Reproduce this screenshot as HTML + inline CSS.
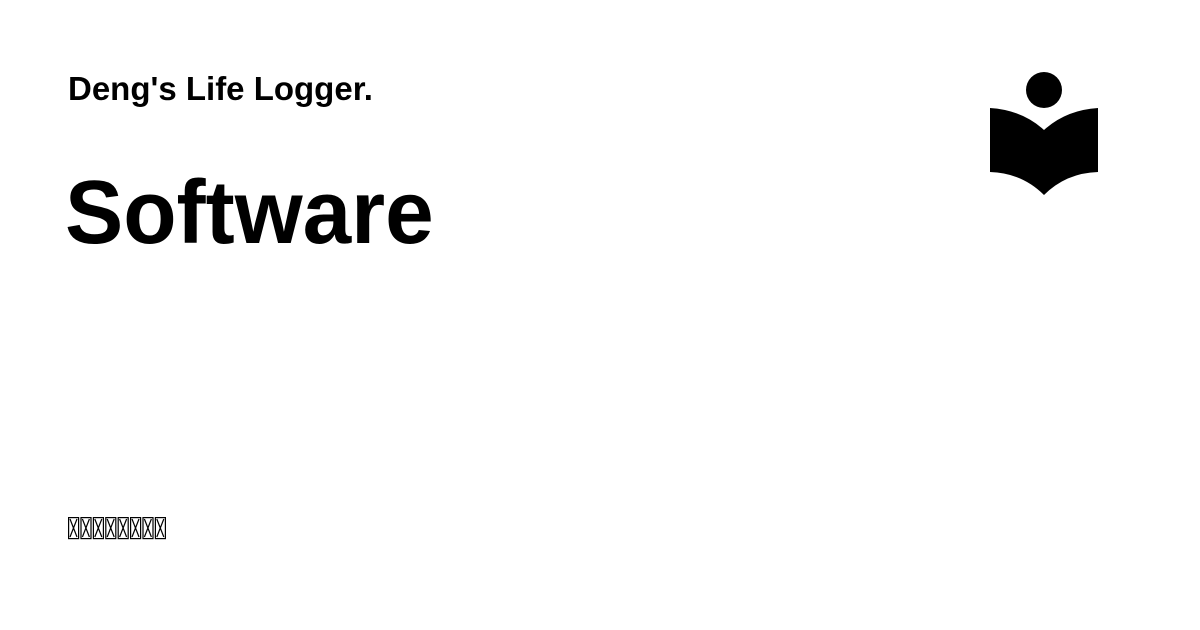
<!DOCTYPE html>
<html><head><meta charset="utf-8"><style>
html,body{margin:0;padding:0;background:#fff;}
body{width:1200px;height:630px;position:relative;overflow:hidden;font-family:"Liberation Sans",sans-serif;color:#000;}
.h{position:absolute;left:68px;top:70px;font-size:33px;font-weight:bold;white-space:nowrap;transform-origin:0 0;}
.t{position:absolute;left:65px;top:162px;font-size:90px;font-weight:bold;white-space:nowrap;transform:scaleX(0.97);transform-origin:0 0;}
.b{position:absolute;left:68px;top:517px;}
.b svg{display:block}
</style></head><body>
<div class="h">Deng's Life Logger.</div>
<div class="t">Software</div>
<div class="b"><svg width="110" height="24">
<g fill="none" stroke="#000" stroke-width="1.2">
<g id="bx"><rect x="0.6" y="0.6" width="10" height="21"/><path d="M2 2L9 20M9 2L2 20"/></g>
<use href="#bx" x="12.4"/><use href="#bx" x="24.8"/><use href="#bx" x="37.2"/><use href="#bx" x="49.6"/><use href="#bx" x="62"/><use href="#bx" x="74.4"/><use href="#bx" x="86.8"/>
</g></svg></div>
<svg style="position:absolute;left:0;top:0" width="1200" height="630">
<circle cx="1044" cy="90" r="18"/>
<path d="M990 108 Q1022 110 1044 130 Q1066 110 1098 108 L1098 172 Q1066 173 1044 195 Q1022 173 990 172 Z"/>
</svg>
</body></html>
